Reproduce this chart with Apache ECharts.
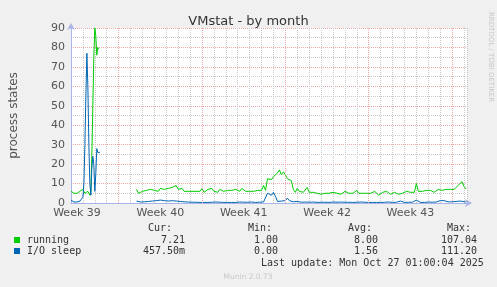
<!DOCTYPE html>
<html><head><meta charset="utf-8">
<script src="https://cdn.jsdelivr.net/npm/echarts@6/dist/echarts.min.js"></script>
<style>html,body{margin:0;padding:0;background:#f0f0f0;}#c{width:497px;height:287px;}</style>
</head><body><div id="c"></div>
<script>
// ---- data ----
const title = 'VMstat - by month';
const yAxisName = 'process states';
const weekLabels = ['Week 39', 'Week 40', 'Week 41', 'Week 42', 'Week 43'];
const weekBoundaryDays = [4, 11, 18, 25, 32];
const yTicks = [0, 10, 20, 30, 40, 50, 60, 70, 80, 90];
const seriesNames = ['running', 'I/O sleep'];
const seriesColors = ['#00cc00', '#0066b3'];
// first block: starts at day 0, one sample each 2 hours
const seg1StartDay = 0, seg1StepHours = 2;
const running1 = [6,6,5,5,5,5,5,5,5.5,6,6.5,7,7,6,5,6,5,6,5,4,6,24,50,75,90,86,76,80,79,80];
const ioSleep1 = [1.5,1,0.5,0.5,0.5,0.5,0.5,0.5,0.8,1,1.5,2,3,10,30,55,77,60,30,10,4,18,24,20,6,15,28,26,26.5,26];
// second block: starts at day 5.5, one sample each 4 hours
const seg2StartDay = 5.5, seg2StepHours = 4;
const running2 = [
 7,5,5.5,6,5.5,6.5,6,7,6,6.5,7,6,7.5,6.5,
 7,6.5,7.5,6.5,8,7,9,7,6.5,7.5,6,6.5,6,7,6,6.5,6,
 7,6,7.5,5.5,6.5,7,6,7.5,6,6.5,5.5,7,6.5,6,7,6.5,5.5,6.5,
 6,7,6.5,6,7.5,6.5,6,7,6,6.5,6,7,6.5,6,6.5,9,6.5,
 12.5,13,12,13.5,12.5,15.5,17,14.5,16,14.5,12.5,13.5,11.5,7,5.5,7.5,6,5,
 5.5,5,8,5.5,5,5.5,6,5,5.5,4.5,5.5,5,6,5,4.5,5.5,6,5,
 5.5,4.5,5,6,5.5,5,4.5,5,5.5,6.5,5,4,5,5.5,5,6,5,5.5,
 6,5,4,5,5.5,5,6,5.5,4.5,5,5.5,5,4.5,5,5,5.5,6,5,
 5.5,5,5.5,10,6,6.5,6,5.5,6.5,6,6.5,6,5.5,6.5,7,6,6.5,6.5,
 7,6.5,7,7.5,7,7,9,8,11,8.5,7.21];
const ioSleep2 = [
 1,0.5,0.5,0.8,0.6,1,0.8,0.6,1,0.8,1.2,1,1.5,1,
 1.2,1.5,1,1.8,1.2,1.5,1,1.3,0.8,1,0.6,0.8,0.5,0.6,0.4,0.5,0.4,
 0.5,0.3,0.4,0.3,0.5,0.3,0.6,0.4,0.3,0.5,0.3,0.4,1,0.3,0.4,0.3,0.5,0.3,
 0.4,0.3,0.8,0.5,0.3,0.4,1,0.4,0.3,0.5,0.4,0.3,0.5,0.4,0.3,0.5,0.4,
 5,5,4,5.5,3.5,0.8,1.2,1,1.2,1.2,2.5,1.2,1,0.6,0.5,0.8,0.5,0.4,
 0.4,0.5,1,0.4,0.3,0.5,0.4,0.3,0.6,0.4,0.3,0.4,1,0.3,0.4,0.5,0.3,0.4,
 0.3,0.5,1,0.4,0.3,0.4,0.6,0.3,1,0.4,0.3,0.5,0.3,0.4,1.2,0.3,0.4,0.3,
 0.5,0.3,0.4,0.3,1,0.4,0.3,0.5,0.4,0.3,0.6,0.4,0.3,1,0.4,0.3,0.5,0.4,
 0.3,0.4,0.5,1.5,0.5,0.3,0.4,0.3,0.4,0.5,0.3,0.4,0.3,0.5,0.4,1.2,2,1.2,
 0.5,0.6,0.8,0.6,1,0.8,0.8,1,0.6,0.7,0.4575];
const statHeaders = ['Cur:', 'Min:', 'Avg:', 'Max:'];
const statsRunning = ['7.21 ', '1.00 ', '8.00 ', '107.04 '];
const statsIoSleep = ['457.50m', '0.00 ', '1.56 ', '111.20 '];
const lastUpdate = 'Last update: Mon Oct 27 01:00:04 2025';
const footer = 'Munin 2.0.73';
const sideText = 'RRDTOOL / TOBI OETIKER';

// ---- build ----
function build(startDay, stepH, vals){ return vals.map((v,i)=>[startDay + i*stepH/24, v]); }
function joined(a, b){ return a.concat([[ (a[a.length-1][0]+b[0][0])/2, null ]], b); }
const runData = joined(build(seg1StartDay, seg1StepHours, running1), build(seg2StartDay, seg2StepHours, running2));
const ioData = joined(build(seg1StartDay, seg1StepHours, ioSleep1), build(seg2StartDay, seg2StepHours, ioSleep2));

const chart = echarts.init(document.getElementById('c'), null, {renderer:'canvas'});
const mono = 'DejaVu Sans Mono';
const sans = 'DejaVu Sans';
const axisCol = '#aab4e6';
const minorCol = '#c8c8c8';
const majorCol = '#eaa8a8';
const colX = [185, 278, 378, 477];
const g = [];
statHeaders.forEach((h,i)=>g.push({type:'text', right: 497-colX[i]+ (i===0?13:6), top: 223, style:{text:h, font:'10px '+mono, fill:'#333', textAlign:'right'}}));
[statsRunning, statsIoSleep].forEach((row, r)=>{
  g.push({type:'rect', shape:{x:14, y:237+r*11, width:6, height:6}, style:{fill:seriesColors[r]}});
  g.push({type:'text', left:27, top:235+r*11, style:{text:seriesNames[r], font:'10px '+mono, fill:'#333'}});
  row.forEach((s,i)=>g.push({type:'text', left: colX[i] - s.length*6 + (s.endsWith(' ')?6:0), top:235+r*11, style:{text:s.trim(), font:'10px '+mono, fill:'#333'}}));
});
g.push({type:'text', left:261, top:258, style:{text:lastUpdate, font:'10px '+mono, fill:'#333'}});
g.push({type:'text', x:248, y:277, style:{text:footer, font:'7.5px '+sans, fill:'#c8c8c8', align:'center', verticalAlign:'middle'}});
g.push({type:'text', x:491, y:57, rotation:-Math.PI/2, style:{text:sideText, font:'7px '+sans, fill:'#c8c8c8', align:'center', verticalAlign:'middle'}});

chart.setOption({
  animation:false,
  backgroundColor:'#f0f0f0',
  title:{text:title, left:'center', top:10, textStyle:{fontFamily:sans, fontSize:13, fontWeight:'normal', color:'#333'}},
  grid:{left:68, right:30, top:28, bottom:84, show:true, backgroundColor:'#ffffff', borderWidth:0},
  xAxis:[
    {type:'value', min:0, max:33.25, interval:1,
     axisLine:{show:true, lineStyle:{color:axisCol}, symbol:['none','arrow'], symbolSize:[6,7], symbolOffset:[0,5]},
     axisTick:{show:false}, axisLabel:{show:false},
     splitLine:{show:true, lineStyle:{color:minorCol, type:[1,1], width:1}}},
    {type:'value', min:0, max:33.25, interval:0.5, position:'bottom',
     axisLine:{show:false}, axisTick:{show:false}, splitLine:{show:false},
     axisLabel:{show:true, margin:5, fontFamily:sans, fontSize:11, color:'#555',
       formatter:v=>{ const k=(v-0.5)/7; return (Number.isInteger(k) && weekLabels[k]) ? weekLabels[k] : ''; }}}
  ],
  yAxis:{type:'value', min:yTicks[0], max:yTicks[yTicks.length-1], interval:10,
    name:yAxisName, nameLocation:'middle', nameGap:51, nameTextStyle:{fontFamily:sans, fontSize:12, color:'#555'},
    axisLine:{show:true, lineStyle:{color:axisCol}, symbol:['none','arrow'], symbolSize:[6,7], symbolOffset:[0,5]},
    axisTick:{show:false},
    axisLabel:{fontFamily:sans, fontSize:11, color:'#555', margin:6},
    splitLine:{show:true, lineStyle:{color:majorCol, type:[1,1], width:1}},
    minorTick:{show:false, splitNumber:2},
    minorSplitLine:{show:true, lineStyle:{color:minorCol, type:[1,1], width:1}}},
  series:[
    {type:'line', name:'weeks', data:[[0,null]], z:1, silent:true, symbol:'none',
     markLine:{silent:true, symbol:'none', label:{show:false}, animation:false,
       lineStyle:{color:majorCol, type:[1,1], width:1},
       data: weekBoundaryDays.map(d=>({xAxis:d}))}},
    {type:'line', name:seriesNames[0], data:runData, showSymbol:false, symbol:'none', connectNulls:false,
     lineStyle:{color:seriesColors[0], width:1}, itemStyle:{color:seriesColors[0]}, z:3},
    {type:'line', name:seriesNames[1], data:ioData, showSymbol:false, symbol:'none', connectNulls:false,
     lineStyle:{color:seriesColors[1], width:1}, itemStyle:{color:seriesColors[1]}, z:4}
  ],
  graphic:g
});
</script></body></html>
